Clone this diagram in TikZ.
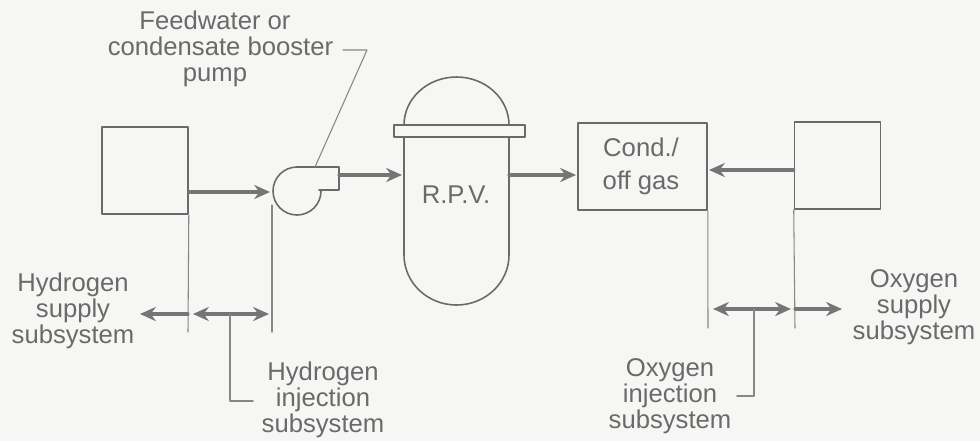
\documentclass[tikz,border=0pt]{standalone}
\usepackage{fontspec}
\setmainfont{Liberation Sans}
\usepackage{xcolor}
\usetikzlibrary{arrows.meta}
\definecolor{paper}{HTML}{F6F6F4}
\definecolor{ink}{HTML}{6A6A6A}
\definecolor{flowink}{HTML}{757575}
\tikzset{
  every picture/.style={line join=round, line cap=round, >=Stealth},
  vessel/.style={draw=ink,line width=0.9pt},
  unitbox/.style={vessel,inner sep=0pt,minimum width=1.72cm,minimum height=1.74cm},
  flow/.style={flowink,line width=1.8pt,-{Stealth[length=9pt,width=8pt]}},
  flowboth/.style={flowink,line width=1.8pt,{Stealth[length=9pt,width=8pt]}-{Stealth[length=9pt,width=8pt]}},
  tag/.style={draw=ink!80!paper,line width=0.6pt},
  label/.style={text=ink,align=center,inner sep=0pt,font=\fontsize{14.6}{14.8}\selectfont},
}
\begin{document}
\begin{tikzpicture}[x=0.02cm,y=-0.02cm]
\fill[paper] (0,0) rectangle (980,441);
% hydrogen side
\node[unitbox] (hbox) at (145,170.5) {};
\coordinate (pumpin) at (270,192);
\coordinate (hleft) at (188,332);
\coordinate (hright) at (272,332);
\draw[tag] (hbox.south east)--(hleft);
\draw[tag] (hright |- 0,205)--(hright);
\draw[flow] (hbox.east |- pumpin)--(pumpin);
% pump
\draw[vessel] (297,167)--(339,167)--(339,190)--(319,190);
\draw[vessel] (297,167) arc[start angle=270,end angle=0,radius=24];
\coordinate (pumpout) at (339,175);
\coordinate (pumptop) at (315,167);
\coordinate (pumpbend) at (367,50);
% reactor vessel
\node[vessel,inner sep=0pt,minimum width=2.62cm,minimum height=0.24cm] (flange) at (459.5,131) {};
\draw[vessel] (404,125) arc[start angle=180,end angle=360,x radius=52.5,y radius=48];
\draw[vessel] (404,137)--(404,255) arc[start angle=180,end angle=0,x radius=52.5,y radius=50]--(509,137);
\node[label] (rpv) at (456,195) {R.P.V.};
\coordinate (rpvin) at (402,175);
\coordinate (rpvout) at (509,175);
\draw[flow] (pumpout)--(rpvin);
% oxygen side
\node[unitbox,minimum width=2.58cm] (cond) at (642.5,166.5) {};
\node[label,font=\fontsize{14.6}{16}\selectfont] (condtext) at (641,166) {Cond./\\[0.1cm]off gas};
\node[unitbox] (obox) at (837.5,165.5) {};
\coordinate (condin) at (576,175);
\coordinate (condback) at (709,170);
\coordinate (oleft) at (708,328);
\coordinate (oright) at (795,328);
\draw[flow] (rpvout)--(condin);
\draw[flow] (obox.west |- condback)--(condback);
\draw[tag] (cond.south east)--(oleft);
\draw[tag] (obox.south west)--(oright);
% labels
\node[label] (feedwater) at (215,49) {Feedwater or\\\hspace*{0.22cm}condensate booster\\pump};
\node[label] (hsupply) at (73,311) {Hydrogen\\supply\\subsystem};
\node[label] (hinject) at (323,400) {Hydrogen\\injection\\subsystem};
\node[label] (oinject) at (670,396) {Oxygen\\injection\\subsystem};
\node[label] (osupply) at (914,307) {Oxygen\\supply\\subsystem};
% leaders
\draw[tag] (343,50)--(pumpbend)--(pumptop);
\coordinate (harrowl) at (140,314);
\coordinate (harrowa) at (193,314);
\coordinate (harrowb) at (269,314);
\coordinate (hstem) at (230,314);
\coordinate (hfoot) at (253,401);
\draw[flow] (hleft |- harrowl)--(harrowl);
\draw[flowboth] (harrowa)--(harrowb);
\draw[tag,line width=0.9pt] (hstem)--(hstem |- hfoot)--(hfoot);
\coordinate (oarrowa) at (713,309);
\coordinate (oarrowb) at (791,309);
\coordinate (oarrowc) at (842,309);
\coordinate (ostem) at (754,309);
\coordinate (ofoot) at (737,396);
\draw[flowboth] (oarrowa)--(oarrowb);
\draw[flow] (oright |- oarrowc)--(oarrowc);
\draw[tag,line width=0.9pt] (ostem)--(ostem |- ofoot)--(ofoot);
\end{tikzpicture}
\end{document}
